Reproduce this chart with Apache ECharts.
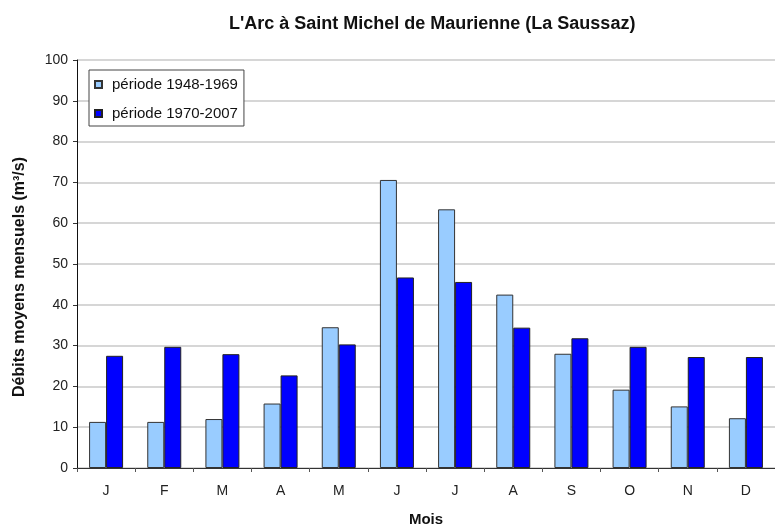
<!DOCTYPE html>
<html>
<head>
<meta charset="utf-8">
<script src="https://cdn.jsdelivr.net/npm/echarts@6/dist/echarts.min.js"></script>
<style>
  html, body { margin: 0; padding: 0; background: #fff; }
  #chart { width: 775px; height: 528px; }
</style>
</head>
<body>
<div id="chart"></div>
<script>
// months (x axis)
var months = ["J", "F", "M", "A", "M", "J", "J", "A", "S", "O", "N", "D"];
// mean monthly flows, m3/s
var periode1948 = [11.3, 11.3, 12.0, 15.8, 34.5, 70.6, 63.4, 42.5, 28.0, 19.2, 15.1, 12.2];
var periode1970 = [27.5, 29.7, 27.9, 22.7, 30.3, 46.7, 45.6, 34.4, 31.8, 29.7, 27.2, 27.2];
var yTicks = [0, 10, 20, 30, 40, 50, 60, 70, 80, 90, 100];

var font = "Liberation Sans, Arial, sans-serif";
var chart = echarts.init(document.getElementById("chart"));

chart.setOption({
  animation: false,
  textStyle: { fontFamily: font },
  title: {
    text: "L'Arc à Saint Michel de Maurienne (La Saussaz)",
    left: 224,
    top: 10,
    textStyle: { fontSize: 18, fontWeight: "bold", color: "#111", fontFamily: font }
  },
  legend: {
    orient: "vertical",
    left: 89,
    top: 70,
    itemWidth: 7,
    itemHeight: 7,
    itemGap: 14,
    padding: [7, 6, 5, 5],
    borderColor: "#444",
    borderWidth: 1,
    backgroundColor: "#fff",
    icon: "rect",
    textStyle: { fontSize: 15, color: "#111", padding: [0, 0, 0, 5] },
    data: ["période 1948-1969", "période 1970-2007"]
  },
  grid: { left: 77, right: 0, top: 60, bottom: 60, outerBoundsMode: "none" },
  xAxis: {
    type: "category",
    data: months,
    name: "Mois",
    nameLocation: "middle",
    nameGap: 44,
    nameTextStyle: { fontSize: 15, fontWeight: "bold", color: "#111" },
    axisLine: { lineStyle: { color: "#333", width: 1 } },
    axisTick: { show: true, length: 4, lineStyle: { color: "#555" } },
    axisLabel: { fontSize: 14, color: "#222", margin: 16 }
  },
  yAxis: {
    type: "value",
    min: yTicks[0],
    max: yTicks[yTicks.length - 1],
    interval: 10,
    name: "Débits moyens mensuels (m³/s)",
    nameLocation: "middle",
    nameGap: 49,
    nameTextStyle: { fontSize: 16, fontWeight: "bold", color: "#111", padding: [0, 26, 0, 0] },
    axisLine: { show: true, lineStyle: { color: "#111", width: 1 } },
    axisTick: { show: true, length: 4, lineStyle: { color: "#333" } },
    axisLabel: { fontSize: 14, color: "#222", margin: 9 },
    splitLine: { lineStyle: { color: "#c8c8c8", width: 1.5 } }
  },
  series: [
    {
      name: "période 1948-1969",
      type: "bar",
      data: periode1948,
      barWidth: 17,
      barGap: "0%",
      itemStyle: { color: "#99ccff", borderColor: "#333", borderWidth: 1 }
    },
    {
      name: "période 1970-2007",
      type: "bar",
      data: periode1970,
      barWidth: 17,
      itemStyle: { color: "#0000ff", borderColor: "#222", borderWidth: 1 }
    }
  ]
});
</script>
</body>
</html>
